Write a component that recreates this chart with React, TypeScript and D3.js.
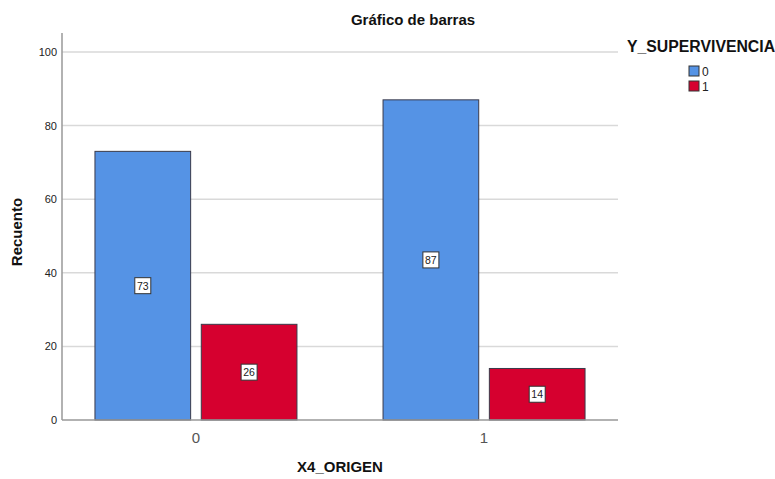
import React from "react";
import * as d3 from "d3";

const categories = ["0", "1"];
const seriesKeys = ["0", "1"];
const values0 = [73, 87];
const values1 = [26, 14];
const yTicks = [0, 20, 40, 60, 80, 100];
const colors = ["#5593E5", "#D6002F"];
const title = "Gráfico de barras";
const xTitle = "X4_ORIGEN";
const yTitle = "Recuento";
const legendTitle = "Y_SUPERVIVENCIA";

export default function App() {
  const W = 775, H = 479;
  const left = 62, right = 618, top = 33, bottom = 420;
  const y = d3.scaleLinear().domain([0, 100]).range([bottom, 52]);
  const x = d3.scalePoint<string>().domain(categories).range([left, right]).padding(0.465);
  const sub = d3.scaleBand<string>().domain(seriesKeys).range([-101, 101]).paddingInner(0.1);
  const series = [values0, values1];
  const font = "Arial, 'Liberation Sans', sans-serif";

  return (
    <svg width={W} height={H} style={{ position: "absolute", left: 0, top: 0 }} fontFamily={font}>
      <rect width={W} height={H} fill="#fff" />
      {yTicks.map((t) => (
        <g key={t}>
          {t > 0 && <line x1={left} x2={right} y1={y(t)} y2={y(t)} stroke="#d9d9d9" strokeWidth={1.5} />}
          <text x={57} y={y(t) + 4} textAnchor="end" fontSize={11} fill="#222">{t}</text>
        </g>
      ))}
      {categories.map((c, i) =>
        seriesKeys.map((s, j) => {
          const v = series[j][i];
          const bx = (x(c) as number) + (sub(s) as number);
          const bw = sub.bandwidth();
          const cx = bx + bw / 2;
          const cy = y(v / 2);
          return (
            <g key={c + s}>
              <rect x={bx} y={y(v)} width={bw} height={bottom - y(v)} fill={colors[j]} stroke="#3a3a4a" strokeWidth={1} />
              <rect x={cx - 8} y={cy - 8} width={16} height={16} fill="#fff" stroke="#333" strokeWidth={1} />
              <text x={cx} y={cy + 4} textAnchor="middle" fontSize={10.5} fill="#222">{v}</text>
            </g>
          );
        })
      )}
      <line x1={left} x2={left} y1={top} y2={bottom} stroke="#999" strokeWidth={1.5} />
      <line x1={left} x2={right} y1={bottom} y2={bottom} stroke="#999" strokeWidth={1.5} />
      {categories.map((c) => (
        <text key={c} x={x(c) as number} y={443} textAnchor="middle" fontSize={15} fill="#555">{c}</text>
      ))}
      <text x={413} y={25} textAnchor="middle" fontSize={15} fontWeight="bold" fill="#111">{title}</text>
      <text x={340} y={472} textAnchor="middle" fontSize={15} fontWeight="bold" fill="#111">{xTitle}</text>
      <text transform={`translate(22,${232}) rotate(-90)`} textAnchor="middle" fontSize={15} fontWeight="bold" fill="#111">{yTitle}</text>
      <text x={627} y={52} fontSize={15.8} fontWeight="bold" fill="#111">{legendTitle}</text>
      {seriesKeys.map((s, j) => (
        <g key={s}>
          <rect x={689} y={66 + j * 15} width={10} height={10} fill={colors[j]} stroke="#333" strokeWidth={1} />
          <text x={702} y={76 + j * 15} fontSize={12} fill="#222">{s}</text>
        </g>
      ))}
    </svg>
  );
}
